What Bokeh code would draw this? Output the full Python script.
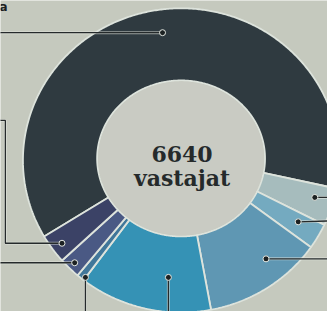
import numpy as np
from bokeh.plotting import figure
from bokeh.models import Range1d, ColumnDataSource
from bokeh.core.properties import value
from bokeh.embed import file_html
from bokeh.resources import INLINE

# ---- data (share of respondents, %, clockwise from the lower-left end of the big segment)
segment_ids = ["s1", "s2", "s3", "s4", "s5", "s6", "s7", "s8"]
shares = [61.3, 4.0, 2.7, 12.3, 13.6, 0.8, 2.2, 3.1]
total_text = "6640"
unit_text = "vastajat"
heading_fragment = "a"

# ---- styles
colors = ["#2f3a40", "#a6bcbd", "#74aac0", "#5f97b3", "#3592b5", "#41779a", "#4a5984", "#3b4266"]
BG = "#c5c9be"
INNER_BG = "#c9cbc3"
SEP = "#dde3dc"
INK = "#252a2b"

# ---- layout (reference pixel coordinates)
CX, CY = 185, 164
RX_OUT, RY_OUT = 162, 156
ICX, ICY = 185, 162
RX_IN, RY_IN = 86, 80
START_DEG = 150.0

W, H = 327, 311
p = figure(width=W, height=H, output_backend="svg", toolbar_location=None,
           x_range=Range1d(0, 335), y_range=Range1d(319, 0),
           min_border=0, background_fill_color=BG, border_fill_color=BG)
p.axis.visible = False
p.grid.visible = False
p.outline_line_color = None

vals = np.array(shares, dtype=float)
ends = START_DEG + np.cumsum(vals) / vals.sum() * 360.0
starts = np.concatenate([[START_DEG], ends[:-1]])

xs, ys = [], []
for a0, a1 in zip(starts, ends):
    t = np.radians(np.linspace(a0, a1, max(int((a1 - a0) * 2), 4)))
    ox = CX + RX_OUT * np.cos(t)
    oy = CY + RY_OUT * np.sin(t)
    ix = ICX + RX_IN * np.cos(t[::-1])
    iy = ICY + RY_IN * np.sin(t[::-1])
    xs.append(list(np.concatenate([ox, ix])))
    ys.append(list(np.concatenate([oy, iy])))

src = ColumnDataSource(dict(xs=xs, ys=ys, color=colors, id=segment_ids, share=shares))
p.patches("xs", "ys", source=src, fill_color="color", line_color=SEP, line_width=1.8)

# inner disc
p.ellipse(x=[ICX], y=[ICY], width=[2 * RX_IN - 2], height=[2 * RY_IN - 2],
          fill_color=INNER_BG, line_color=None)

# centre text
p.text(x=[ICX + 1], y=[157], text=[total_text], text_font=value("DejaVu Serif"),
       text_font_style="bold", text_font_size="22px", text_color=INK,
       text_align="center", text_baseline="alphabetic")
p.text(x=[ICX + 1], y=[182], text=[unit_text], text_font=value("DejaVu Serif"),
       text_font_style="bold", text_font_size="22px", text_color=INK,
       text_align="center", text_baseline="alphabetic")

# cropped heading fragment, top-left corner
p.text(x=[-1], y=[7], text=[heading_fragment], text_font=value("DejaVu Sans"),
       text_font_style="bold", text_font_size="12px", text_color="#1c2020",
       text_align="left", text_baseline="alphabetic")

# leader lines (label anchors; label texts are cropped off in the original)
leaders = [
    ([-5, 166], [33, 33]),
    ([-5, 5, 5, 63], [123, 123, 249, 249]),
    ([-5, 76], [269, 269]),
    ([87, 87], [284, 330]),
    ([172, 172], [284, 330]),
    ([272, 340], [265, 265]),
    ([305, 340], [227, 226]),
    ([322, 340], [202, 202]),
]
p.multi_line([l[0] for l in leaders], [l[1] for l in leaders],
             line_color="#e2e6e0", line_width=3, line_alpha=0.6)
p.multi_line([l[0] for l in leaders], [l[1] for l in leaders],
             line_color=INK, line_width=1.3)
dots_x = [l[0][-1] if i in (0, 1, 2) else l[0][0] for i, l in enumerate(leaders)]
dots_y = [l[1][-1] if i in (0, 1, 2) else l[1][0] for i, l in enumerate(leaders)]
p.scatter(dots_x, dots_y, size=6, fill_color="#1c2122", line_color="#e4e8e2", line_width=1)

open("out.html", "w").write(file_html(p, INLINE))
